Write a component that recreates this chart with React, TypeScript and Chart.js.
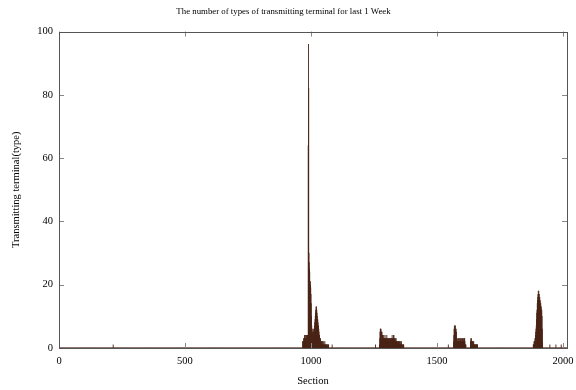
import React, { useEffect, useRef } from 'react';
import { Chart, registerables } from 'chart.js';

Chart.register(...registerables);

const TITLE = 'The number of types of transmitting terminal for last 1 Week';
const X_TITLE = 'Section';
const Y_TITLE = 'Transmitting terminal(type)';
const TOTAL_SECTIONS = 2016;
const xTickValues = [0, 500, 1000, 1500, 2000];
const yTickValues = [0, 20, 40, 60, 80, 100];

// isolated single sections
const spikeSections = [215, 1256, 1545, 1948, 1972, 1993];
const spikeValues = [1, 1, 1, 1, 1, 1];

// cluster around section 1000
const cluster1Start = 967;
const cluster1Values = [
  2, 2, 1, 2, 3, 3, 2, 4, 3, 3, 4, 2, 3, 4, 4, 3, 4, 3, 4, 4, 3, 4,
  64, 96, 82,
  30, 27, 25, 24, 21, 21, 20, 19, 17, 14, 10, 7, 5,
  5, 4, 6, 5, 4, 5, 6, 5,
  6, 7, 8, 9, 10, 11, 12, 13, 12, 13, 12, 11,
  10, 9, 9, 8, 7, 7, 6, 5, 4, 4, 3, 3, 2, 3, 2, 2,
  1, 2, 1, 2, 2, 1, 1, 2, 1, 1, 2, 1, 1, 1, 2, 1, 1, 1, 0, 1, 1, 1, 0, 1, 1, 0, 1, 0, 1, 1,
  0, 0, 0, 0, 0, 0, 0, 0, 0, 0, 0, 0, 0, 1,
];

// cluster around section 1300
const cluster2Start = 1272;
const cluster2Values = [
  1, 3, 5, 6, 6, 5, 6, 5, 5, 4, 5, 4, 4,
  3, 4, 3, 3, 4, 3, 2, 3, 3, 4, 3, 3, 2, 3, 3,
  3, 4, 3, 2, 3, 3, 2, 3, 3, 2, 3, 2, 3, 3, 2, 3, 3,
  3, 3, 2, 3, 3, 4, 3, 3, 2, 3, 3, 4, 4, 3, 3, 2, 3, 2, 3, 2, 2, 3, 2, 2,
  2, 2, 1, 2, 2, 1, 2, 2, 1, 2, 1, 2, 2, 1, 1, 2, 1, 1, 2, 1,
  1, 1, 0, 1, 1, 0, 1, 1,
];

// cluster around section 1600
const cluster3Start = 1566;
const cluster3Values = [
  2, 4, 6, 7, 6, 7, 6, 7, 6, 5, 6, 5, 3, 2, 2,
  2, 3, 2, 2, 3, 2, 3, 2, 2, 3, 2, 2, 3, 2, 3,
  2, 3, 2, 2, 2, 3, 2, 3, 3, 2, 2, 3, 2, 3, 3, 2, 1, 1, 0, 1,
  0, 0, 0, 0, 0, 0, 0, 0, 0, 0, 0, 0, 0, 0, 0, 0, 0,
  2, 3, 2, 2, 3, 2, 2, 1, 2, 2, 1, 2, 1, 2,
  1, 1, 1, 1, 0, 1, 1, 1, 1, 0, 1, 1, 1, 1, 1,
];

// cluster around section 1900
const cluster4Start = 1882;
const cluster4Values = [
  1, 1, 1, 2, 1, 2, 2, 3,
  3, 4, 5, 6, 7, 9, 11, 12, 14, 15,
  16, 17, 18, 17, 18, 16, 17,
  15, 16, 14, 15, 13, 14,
  12, 13, 11, 12, 10, 6, 2,
];

function buildSeries(): { x: number; y: number }[] {
  const values: number[] = new Array(TOTAL_SECTIONS).fill(0);
  spikeSections.forEach((s, i) => { values[s] = spikeValues[i]; });
  const clusters: [number, number[]][] = [
    [cluster1Start, cluster1Values],
    [cluster2Start, cluster2Values],
    [cluster3Start, cluster3Values],
    [cluster4Start, cluster4Values],
  ];
  clusters.forEach(([start, vals]) => {
    vals.forEach((v, i) => { values[start + i] = v; });
  });
  return values.map((y, x) => ({ x, y }));
}

const FONT = 'Liberation Serif';

const framePlugin = {
  id: 'frameTicks',
  afterDatasetsDraw(chart: any) {
    const { ctx, chartArea } = chart;
    const { left, right, top, bottom } = chartArea;
    const xs = chart.scales.x;
    const ys = chart.scales.y;
    const len = 5;
    ctx.save();
    ctx.strokeStyle = '#888888';
    ctx.lineWidth = 1;
    ctx.beginPath();
    xTickValues.forEach((v) => {
      const px = Math.round(xs.getPixelForValue(v)) + 0.5;
      ctx.moveTo(px, bottom);
      ctx.lineTo(px, bottom - len);
      ctx.moveTo(px, top);
      ctx.lineTo(px, top + len);
    });
    yTickValues.forEach((v) => {
      const py = Math.round(ys.getPixelForValue(v)) + 0.5;
      ctx.moveTo(left, py);
      ctx.lineTo(left + len, py);
      ctx.moveTo(right, py);
      ctx.lineTo(right - len, py);
    });
    ctx.stroke();
    ctx.strokeStyle = '#555555';
    ctx.strokeRect(Math.round(left) + 0.5, Math.round(top) + 0.5, Math.round(right - left), Math.round(bottom - top));
    ctx.restore();
  },
};

export default function App() {
  const ref = useRef<HTMLCanvasElement>(null);
  useEffect(() => {
    if (!ref.current) return;
    const chart = new Chart(ref.current, {
      type: 'bar',
      data: {
        datasets: [
          {
            data: buildSeries(),
            backgroundColor: '#4a2416',
            borderWidth: 0,
            barPercentage: 1,
            categoryPercentage: 1,
          } as any,
        ],
      },
      options: {
        responsive: false,
        animation: false,
        layout: { padding: { left: 0, right: 9, top: 0, bottom: 0 } },
        plugins: {
          legend: { display: false },
          tooltip: { enabled: false },
          title: {
            display: true,
            text: TITLE,
            color: '#000',
            font: { family: FONT, size: 8.8, weight: 'normal' },
            padding: { top: 6, bottom: 15 },
          },
        },
        scales: {
          x: {
            type: 'linear',
            offset: false,
            min: 0,
            max: TOTAL_SECTIONS,
            afterBuildTicks: (s: any) => { s.ticks = xTickValues.map((value) => ({ value })); },
            afterFit: (s: any) => { s.height = 42; s.paddingLeft = 0; s.paddingRight = 0; },
            ticks: {
              color: '#000',
              font: { family: FONT, size: 10.5 },
              padding: 7,
              maxRotation: 0,
              autoSkip: false,
              callback: (v: any) => String(v),
            },
            grid: { display: false, drawTicks: false, offset: false },
            border: { display: false },
            title: {
              display: true,
              text: X_TITLE,
              color: '#000',
              font: { family: FONT, size: 10.5 },
              padding: { top: 0, bottom: 2 },
            },
          },
          y: {
            type: 'linear',
            min: 0,
            max: 100,
            afterBuildTicks: (s: any) => { s.ticks = yTickValues.map((value) => ({ value })); },
            afterFit: (s: any) => { s.width = 59; s.paddingTop = 0; s.paddingBottom = 0; },
            ticks: {
              color: '#000',
              font: { family: FONT, size: 10.5 },
              padding: 6,
              autoSkip: false,
              callback: (v: any) => String(v),
            },
            grid: { display: false, drawTicks: false },
            border: { display: false },
            title: {
              display: true,
              text: Y_TITLE,
              color: '#000',
              font: { family: FONT, size: 10.5 },
              padding: { top: 10, bottom: 0 },
            },
          },
        },
      } as any,
      plugins: [framePlugin],
    });
    return () => chart.destroy();
  }, []);
  return (
    <div style={{ position: 'absolute', left: 0, top: 0, width: 576, height: 390, background: '#fff' }}>
      <canvas ref={ref} width={576} height={390} style={{ display: 'block' }} />
    </div>
  );
}
